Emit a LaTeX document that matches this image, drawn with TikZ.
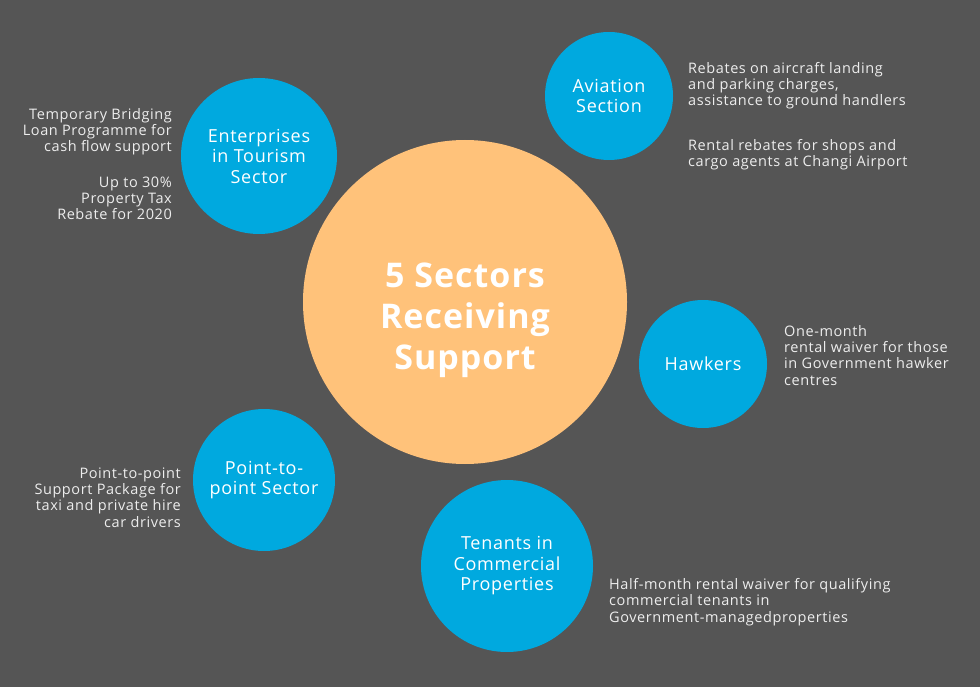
\documentclass[tikz,border=0pt]{standalone}
\usepackage{fontspec}
\setmainfont{Open Sans}
\definecolor{bgGray}{HTML}{555555}
\definecolor{sectorBlue}{HTML}{00A9DF}
\definecolor{hubOrange}{HTML}{FFC27A}
\tikzset{
    sector/.style = {circle, fill = sectorBlue, text = white, align = center,
        inner sep = 0pt, font = \fontsize{18}{20.5}\selectfont\addfontfeatures{LetterSpace = 4}},
    note/.style = {text = white!93!black, inner sep = 0pt,
        font = \fontsize{14.5}{16.3}\selectfont\addfontfeatures{LetterSpace = 4}},
}
\begin{document}
\begin{tikzpicture}[x = 1pt, y = -1pt]
        \fill[bgGray] (0, 0) rectangle (980, 687);
        \useasboundingbox (0, 0) rectangle (980, 687);
        % hub and its title
        \node[circle, fill = hubOrange, minimum size = 324pt] (hub) at (465, 302) {};
        \node[text = white, align = center, inner sep = 0pt,
            font = \fontsize{34}{41}\selectfont\bfseries\addfontfeatures{LetterSpace = 3}] (title) at (465, 320)
            {5 Sectors\\Receiving\\Support};
        % sectors
        \node[sector, minimum size = 156pt] (tourism) at (259, 156) {Enterprises\\in Tourism\\Sector};
        \node[sector, minimum size = 128pt] (aviation) at (609, 96) {Aviation\\Section};
        \node[sector, minimum size = 128pt] (hawkers) at (703, 364) {Hawkers};
        \node[sector, minimum size = 142pt] (ptp) at (264, 480) {Point-to-\\point Sector};
        \node[sector, minimum size = 172pt] (tenants) at (507, 566) {Tenants in\\Commercial\\Properties};
        % support measures (anchored at the last line)
        \node[note, anchor = base east, align = right] (tourismLoan) at (172, 152)
            {Temporary Bridging\\Loan Programme for\\cash flow support};
        \node[note, anchor = base east, align = right] (tourismTax) at (172, 220)
            {Up to 30\%\\Property Tax\\Rebate for 2020};
        \node[note, anchor = base west, align = left] (aviationFees) at (688, 106)
            {Rebates on aircraft landing\\and parking charges,\\assistance to ground handlers};
        \node[note, anchor = base west, align = left] (aviationRent) at (688, 167)
            {Rental rebates for shops and\\cargo agents at Changi Airport};
        \node[note, anchor = base west, align = left] (hawkersRent) at (784, 385)
            {One-month\\rental waiver for those\\in Government hawker\\centres};
        \node[note, anchor = base east, align = right] (ptpPackage) at (181, 527)
            {Point-to-point\\Support Package for\\taxi and private hire\\car drivers};
        \node[note, anchor = base west, align = left] (tenantsRent) at (609, 622)
            {Half-month rental waiver for qualifying\\commercial tenants in\\Government-managedproperties};
    \end{tikzpicture}
\end{document}
